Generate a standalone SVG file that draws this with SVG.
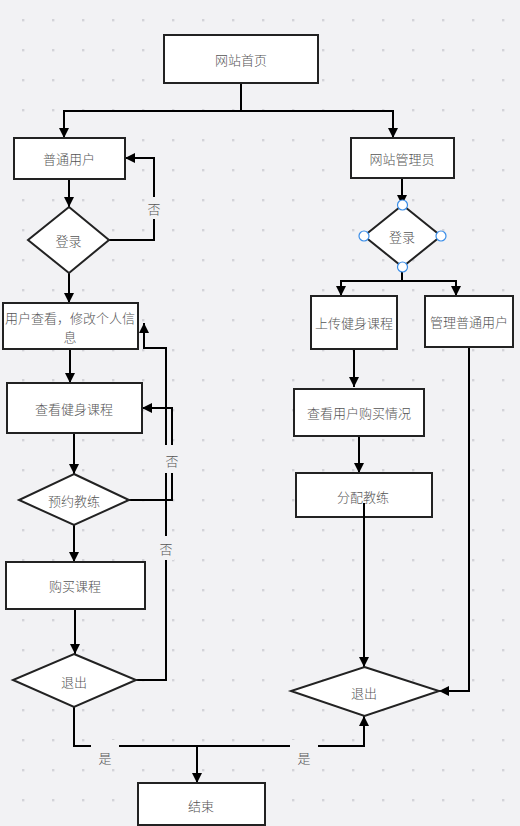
<svg xmlns="http://www.w3.org/2000/svg" width="520" height="826" viewBox="0 0 520 826">
<defs>
<pattern id="dots" patternUnits="userSpaceOnUse" x="22" y="19" width="30" height="30">
<rect x="0" y="0" width="2.4" height="2.4" fill="#d3d3d8"/>
</pattern>
<marker id="arr" markerUnits="userSpaceOnUse" markerWidth="10" markerHeight="10" refX="10" refY="5" orient="auto">
<path d="M0,0 L10,5 L0,10 z" fill="#000"/>
</marker>
</defs>
<style>
.n{fill:#fff;stroke:#222;stroke-width:2}
.t{font-family:"Noto Sans CJK SC","Noto Sans",sans-serif;font-size:13px;font-weight:300;fill:#555;text-anchor:middle;dominant-baseline:central}
.c{fill:none;stroke:#000;stroke-width:2}
.a{marker-end:url(#arr)}
.lb{fill:#f2f2f4}
.cp{fill:#fff;stroke:#3b8ee8;stroke-width:1.2}
</style>
<rect width="520" height="826" fill="#f2f2f4"/>
<rect width="520" height="826" fill="url(#dots)"/>

<g id="connectors">
<path class="c a" d="M241,83 V111 H64 V138"/>
<path class="c a" d="M241,111 H393 V138"/>
<path class="c a" d="M69,179 V207"/>
<path class="c a" d="M109,240 H154 V158 H125"/>
<path class="c a" d="M69,273 V303"/>
<path class="c a" d="M70,349 V383"/>
<path class="c a" d="M74,433 V474"/>
<path class="c a" d="M129,500 H172 V408 H142"/>
<path class="c a" d="M74,525 V562"/>
<path class="c a" d="M75,609 V654"/>
<path class="c a" d="M136,680 H166 V348 H144 V323"/>
<path class="c a" d="M74,707 V746 H364 V716"/>
<path class="c a" d="M197,746 V783"/>
<path class="c a" d="M402,178 V205"/>
<path class="c a" d="M402,267 V281 H341 V296"/>
<path class="c a" d="M402,281 H456 V296"/>
<path class="c a" d="M354,349 V387"/>
<path class="c a" d="M359,436 V473"/>
<path class="c a" d="M469,347 V691 H439"/>
<rect class="lb" x="146" y="197" width="16" height="22"/>
<text class="t" x="154" y="208">否</text>
<rect class="lb" x="164" y="445" width="16" height="28"/>
<text class="t" x="172" y="460">否</text>
<rect class="lb" x="158" y="536" width="16" height="24"/>
<text class="t" x="166" y="548">否</text>
<rect class="lb" x="91" y="740" width="28" height="28"/>
<text class="t" x="105" y="757">是</text>
<rect class="lb" x="290" y="740" width="28" height="28"/>
<text class="t" x="304" y="757">是</text>
</g>

<g id="home"><rect class="n" x="164" y="35" width="154" height="48"/><text class="t" x="241" y="59">网站首页</text></g>
<g id="user"><rect class="n" x="14" y="138" width="111" height="41"/><text class="t" x="69" y="158.5">普通用户</text></g>
<g id="admin"><rect class="n" x="351" y="138" width="103" height="40"/><text class="t" x="402" y="158">网站管理员</text></g>
<g id="login-user"><polygon class="n" points="69,207 109,240 69,273 28,240"/><text class="t" x="68.5" y="240">登录</text></g>
<g id="login-admin"><polygon class="n" points="402.5,205 441,236 402.5,267 364,236"/><text class="t" x="402" y="236">登录</text>
<circle class="cp" cx="402.5" cy="205" r="5"/><circle class="cp" cx="364" cy="236" r="5"/><circle class="cp" cx="441" cy="236" r="5"/><circle class="cp" cx="402.5" cy="267" r="5"/></g>
<g id="profile"><rect class="n" x="3" y="303" width="135" height="46"/><text class="t" x="70" y="317.5">用户查看，修改个人信</text><text class="t" x="70" y="336.5">息</text></g>
<g id="view-course"><rect class="n" x="7" y="383" width="135" height="50"/><text class="t" x="74" y="408">查看健身课程</text></g>
<g id="book"><polygon class="n" points="74,474 129,500 74,525 19,500"/><text class="t" x="74" y="500">预约教练</text></g>
<g id="buy"><rect class="n" x="6" y="562" width="139" height="47"/><text class="t" x="75" y="585.5">购买课程</text></g>
<g id="exit-user"><polygon class="n" points="74,654 136,680 74,707 13,680"/><text class="t" x="74" y="681">退出</text></g>
<g id="upload"><rect class="n" x="311" y="296" width="86" height="53"/><text class="t" x="354" y="322.5">上传健身课程</text></g>
<g id="manage"><rect class="n" x="425" y="296" width="88" height="51"/><text class="t" x="469" y="321.5">管理普通用户</text></g>
<g id="purchases"><rect class="n" x="294" y="389" width="130" height="47"/><text class="t" x="359" y="412.5">查看用户购买情况</text></g>
<g id="assign"><rect class="n" x="296" y="473" width="136" height="44"/><text class="t" x="363" y="496.5">分配教练</text></g>
<path class="c a" d="M364,503 V667"/>
<g id="exit-admin"><polygon class="n" points="364.5,667 439,691 364.5,716 291,691"/><text class="t" x="364" y="692">退出</text></g>
<g id="end"><rect class="n" x="138" y="783" width="127" height="42"/><text class="t" x="201" y="805">结束</text></g>
</svg>
